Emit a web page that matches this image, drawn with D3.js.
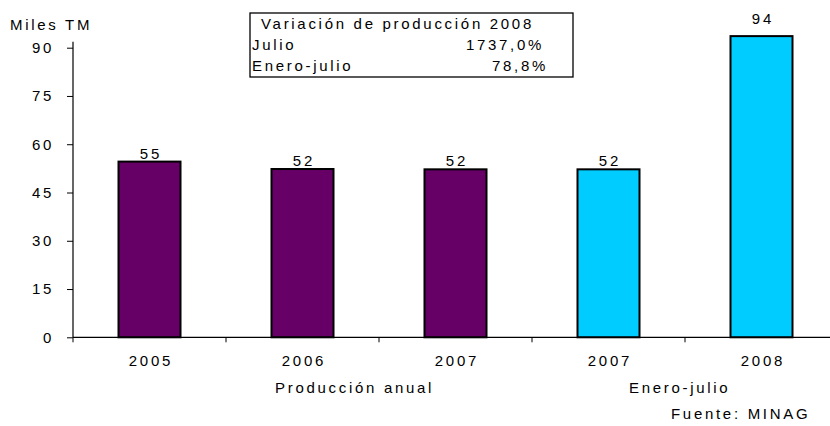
<!DOCTYPE html>
<html><head><meta charset="utf-8">
<script src="https://cdn.jsdelivr.net/npm/d3@7"></script>
<style>
body{margin:0;background:#fff;}
svg text{font-family:"Liberation Sans",Arial,sans-serif;font-size:15px;letter-spacing:2.7px;fill:#000;}
</style></head>
<body><svg id="c" width="830" height="426"></svg>
<script>
const categories = ["2005","2006","2007","2007","2008"];
const values = [54.6, 52.3, 52.2, 52.2, 93.6];
const periods = ["anual","anual","anual","enejul","enejul"];
const yTicks = [0,15,30,45,60,75,90];
const groupLabels = ["Producción anual","Enero-julio"];
const boxTitle = "Variación de producción 2008";
const boxRows = ["Julio","Enero-julio"];
const boxValues = ["1737,0%","78,8%"];
const yTitle = "Miles TM";
const source = "Fuente: MINAG";

const colors = {anual:"#660066", enejul:"#00CCFF"};
const svg = d3.select("#c");
const x0 = 73, x1 = 838, yBot = 337.3, yTop = 47.7;
const y = d3.scaleLinear().domain([0,90]).range([yBot,yTop]);
const p = 1 - 62/153;
const x = d3.scaleBand().domain(d3.range(categories.length)).range([x0,x1]).paddingInner(p).paddingOuter(p/2);
const step = x.step();

// y axis
const yAxis = svg.append("g").attr("transform",`translate(${x0},0)`)
  .call(d3.axisLeft(y).tickValues(yTicks).tickSize(6).tickPadding(13).tickSizeOuter(0));
yAxis.select(".domain").remove();
yAxis.selectAll("line").attr("stroke","#000");
yAxis.selectAll("text").style("font-size","15px").style("font-family",'"Liberation Sans",Arial,sans-serif').attr("fill","#000");
svg.append("line").attr("x1",x0).attr("x2",x0).attr("y1",yTop-6).attr("y2",yBot).attr("stroke","#000").attr("stroke-width",1.2);

// bars
svg.selectAll("rect.bar").data(values).enter().append("rect").attr("class","bar")
  .attr("x",(d,i)=>x(i)).attr("width",x.bandwidth())
  .attr("y",d=>y(d)).attr("height",d=>y(0)-y(d))
  .attr("fill",(d,i)=>colors[periods[i]]).attr("stroke","#000").attr("stroke-width",2);

// x axis line and separator ticks
svg.append("line").attr("x1",x0).attr("x2",x1).attr("y1",yBot).attr("y2",yBot).attr("stroke","#000").attr("stroke-width",1.2);
svg.selectAll("line.sep").data(d3.range(categories.length)).enter().append("line").attr("class","sep")
  .attr("x1",i=>x0+i*step).attr("x2",i=>x0+i*step).attr("y1",yBot).attr("y2",yBot+5).attr("stroke","#000");

// category labels
svg.selectAll("text.cat").data(categories).enter().append("text").attr("class","cat")
  .attr("x",(d,i)=>x(i)+x.bandwidth()/2+1.4).attr("y",366).attr("text-anchor","middle").text(d=>d);

// value labels
svg.selectAll("text.val").data(values).enter().append("text").attr("class","val")
  .attr("x",(d,i)=>x(i)+x.bandwidth()/2+1.4).attr("y",d=>d>90? y(d)-12 : y(d)-3)
  .attr("text-anchor","middle").text(d=>d3.format(".0f")(d));

// group labels
svg.append("text").attr("x",275).attr("y",393).text(groupLabels[0]);
svg.append("text").attr("x",629).attr("y",393).text(groupLabels[1]);

// y title
svg.append("text").attr("x",10).attr("y",30).text(yTitle);

// source
svg.append("text").attr("x",671).attr("y",419).text(source);

// box
svg.append("rect").attr("x",250).attr("y",13).attr("width",323).attr("height",64).attr("fill","#fff").attr("stroke","#000").attr("stroke-width",1.3);
svg.append("text").attr("x",261).attr("y",29).text(boxTitle);
svg.selectAll("text.brow").data(boxRows).enter().append("text").attr("class","brow")
  .attr("x",252).attr("y",(d,i)=>50+i*21).text(d=>d);
svg.selectAll("text.bval").data(boxValues).enter().append("text").attr("class","bval")
  .attr("x",(d,i)=>i==0?544:548).attr("y",(d,i)=>50+i*21).attr("text-anchor","end").text(d=>d);
</script></body></html>
